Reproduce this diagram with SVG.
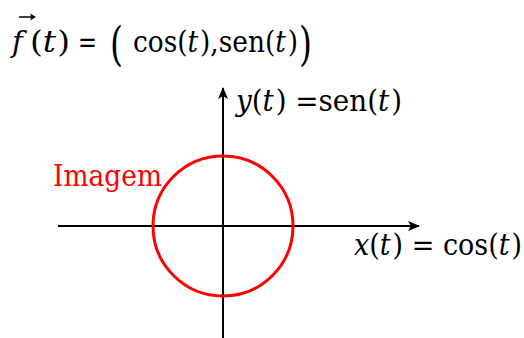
<svg xmlns="http://www.w3.org/2000/svg" width="524" height="338" viewBox="0 0 524 338">
<style>
.t{font-family:"DejaVu Serif",serif;font-size:29px;fill:#000}
.b{font-family:"DejaVu Serif",serif;font-size:46px;fill:#000}
.i{font-style:italic}
.ax{stroke:#000;stroke-width:2;fill:none}
</style>
<defs>
<marker id="ah" viewBox="0 0 12 10" refX="11" refY="5" markerWidth="12" markerHeight="10" markerUnits="userSpaceOnUse" orient="auto">
<path d="M0,0 L12,5 L0,10 L3,5 Z" fill="#000"/>
</marker>
</defs>
<g id="connectors">
<line class="ax" x1="58" y1="226" x2="419" y2="226" marker-end="url(#ah)"/>
<line class="ax" x1="223" y1="338" x2="223" y2="88" marker-end="url(#ah)"/>
</g>
<g id="circle">
<circle cx="223" cy="226" r="70" fill="none" stroke="#ff0000" stroke-width="3"/>
</g>
<g id="title">
<text class="t i" x="12" y="52">f</text>
<text class="t" x="30" y="52" textLength="40" lengthAdjust="spacingAndGlyphs">(<tspan class="i">t</tspan><tspan dx="1">)</tspan></text>
<text class="t" x="78" y="52" textLength="19" lengthAdjust="spacingAndGlyphs">=</text>
<line x1="19" y1="17" x2="33" y2="17" stroke="#000" stroke-width="1.5"/>
<path d="M36,17 L30,13.5 L31.5,17 L30,20.5 Z" fill="#000"/>
<text class="b" x="110" y="60" textLength="13" lengthAdjust="spacingAndGlyphs">(</text>
<text class="t" x="133" y="52" textLength="165" lengthAdjust="spacingAndGlyphs">cos(<tspan class="i">t</tspan><tspan dx="2">),sen(</tspan><tspan class="i">t</tspan><tspan dx="2">)</tspan></text>
<text class="b" x="299" y="60" textLength="13" lengthAdjust="spacingAndGlyphs">)</text>
</g>
<g id="ylabel">
<text class="t" x="236" y="111" textLength="166" lengthAdjust="spacingAndGlyphs"><tspan class="i">y</tspan>(<tspan class="i">t</tspan><tspan dx="2">) =sen(</tspan><tspan class="i">t</tspan><tspan dx="2">)</tspan></text>
</g>
<g id="xlabel">
<text class="t" x="354" y="255" textLength="168" lengthAdjust="spacingAndGlyphs"><tspan class="i">x</tspan>(<tspan class="i">t</tspan><tspan dx="2">) = cos(</tspan><tspan class="i">t</tspan><tspan dx="2">)</tspan></text>
</g>
<g id="imagem">
<text class="t" x="53" y="186" style="fill:#ff0000" textLength="109" lengthAdjust="spacingAndGlyphs">Imagem</text>
</g>
</svg>
